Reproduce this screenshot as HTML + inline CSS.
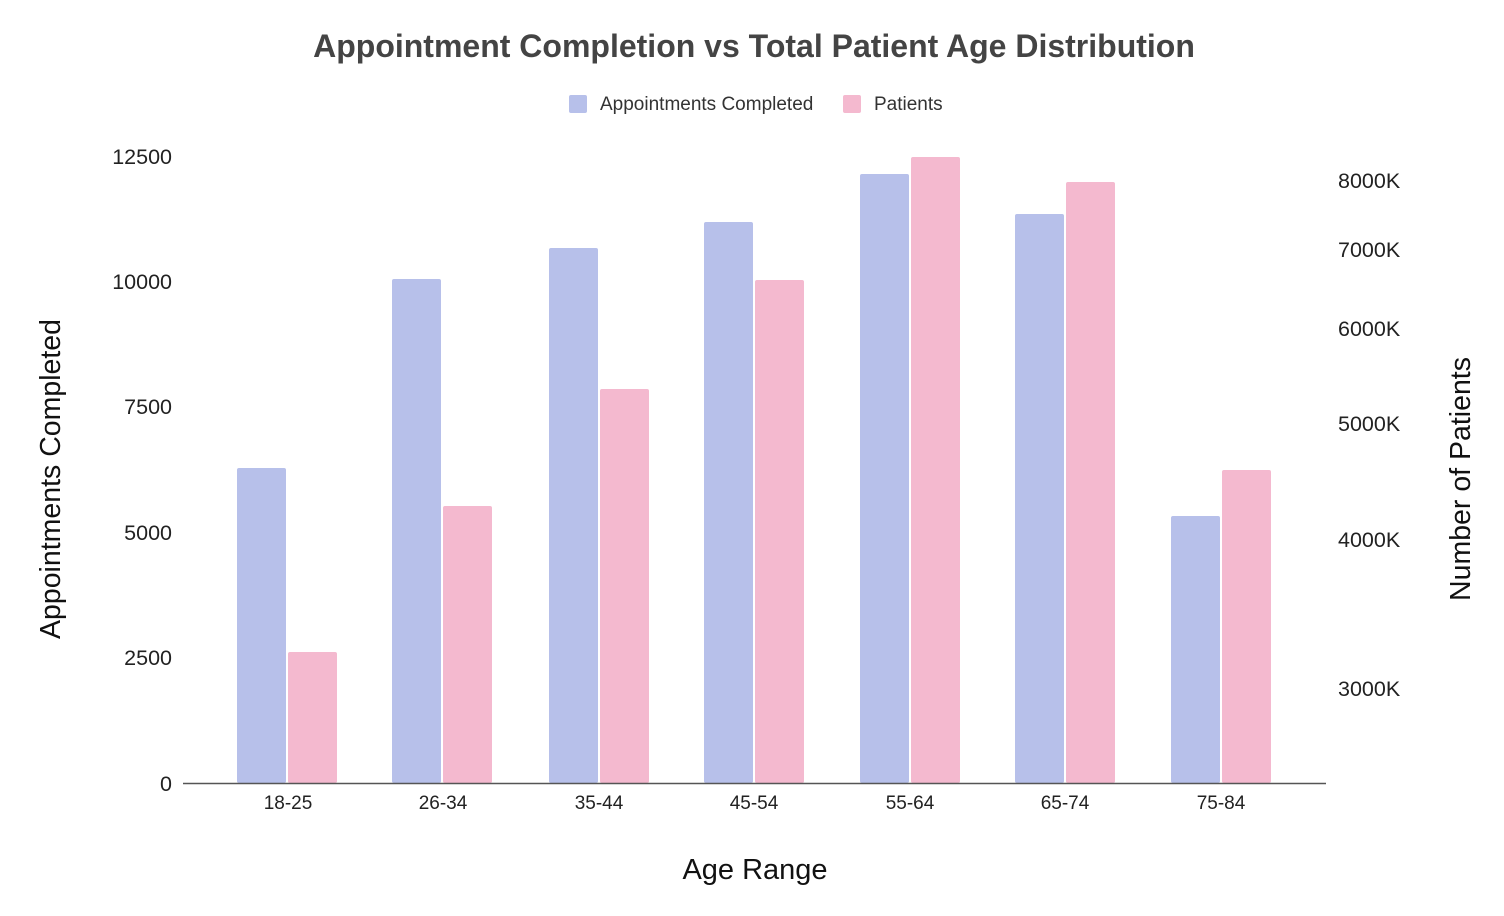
<!DOCTYPE html>
<html><head><meta charset="utf-8"><style>
body{margin:0;background:#fff;}
svg{display:block;font-family:"Liberation Sans",Arial,sans-serif;}
</style></head><body>
<svg width="1504" height="916" viewBox="0 0 1504 916">
<text x="754" y="57" text-anchor="middle" font-size="32" font-weight="bold" fill="#444">Appointment Completion vs Total Patient Age Distribution</text>
<rect x="569" y="95" width="18" height="18" rx="2" fill="#b7c0ea"/>
<text x="600" y="110" font-size="19" fill="#333">Appointments Completed</text>
<rect x="843" y="95" width="18" height="18" rx="2" fill="#f4b9cf"/>
<text x="874" y="110" font-size="19" fill="#333">Patients</text>
<g font-size="21.5" fill="#222" text-anchor="end">
<text x="172" y="164">12500</text>
<text x="172" y="289">10000</text>
<text x="172" y="414">7500</text>
<text x="172" y="540">5000</text>
<text x="172" y="665">2500</text>
<text x="172" y="791">0</text>
</g>
<g font-size="21.5" fill="#222">
<text x="1338" y="188">8000K</text>
<text x="1338" y="257">7000K</text>
<text x="1338" y="336">6000K</text>
<text x="1338" y="431">5000K</text>
<text x="1338" y="547">4000K</text>
<text x="1338" y="696">3000K</text>
</g>
<text transform="translate(60,479) rotate(-90)" text-anchor="middle" font-size="28.5" fill="#111">Appointments Completed</text>
<text transform="translate(1470,479) rotate(-90)" text-anchor="middle" font-size="28.5" fill="#111">Number of Patients</text>
<text x="755" y="879" text-anchor="middle" font-size="29" fill="#111">Age Range</text>
<g fill="#b7c0ea">
<rect x="237" y="468" width="49" height="315" rx="2"/>
<rect x="392" y="279" width="49" height="504" rx="2"/>
<rect x="549" y="248" width="49" height="535" rx="2"/>
<rect x="704" y="222" width="49" height="561" rx="2"/>
<rect x="860" y="174" width="49" height="609" rx="2"/>
<rect x="1015" y="214" width="49" height="569" rx="2"/>
<rect x="1171" y="516" width="49" height="267" rx="2"/>
</g>
<g fill="#f4b9cf">
<rect x="288" y="652" width="49" height="131" rx="2"/>
<rect x="443" y="506" width="49" height="277" rx="2"/>
<rect x="600" y="389" width="49" height="394" rx="2"/>
<rect x="755" y="280" width="49" height="503" rx="2"/>
<rect x="911" y="157" width="49" height="626" rx="2"/>
<rect x="1066" y="182" width="49" height="601" rx="2"/>
<rect x="1222" y="470" width="49" height="313" rx="2"/>
</g>
<line x1="183" y1="783.5" x2="1326" y2="783.5" stroke="#555" stroke-width="1.5"/>
<g font-size="19" fill="#222" text-anchor="middle">
<text x="288" y="809">18-25</text>
<text x="443" y="809">26-34</text>
<text x="599" y="809">35-44</text>
<text x="754" y="809">45-54</text>
<text x="910" y="809">55-64</text>
<text x="1065" y="809">65-74</text>
<text x="1221" y="809">75-84</text>
</g>
</svg>
</body></html>
